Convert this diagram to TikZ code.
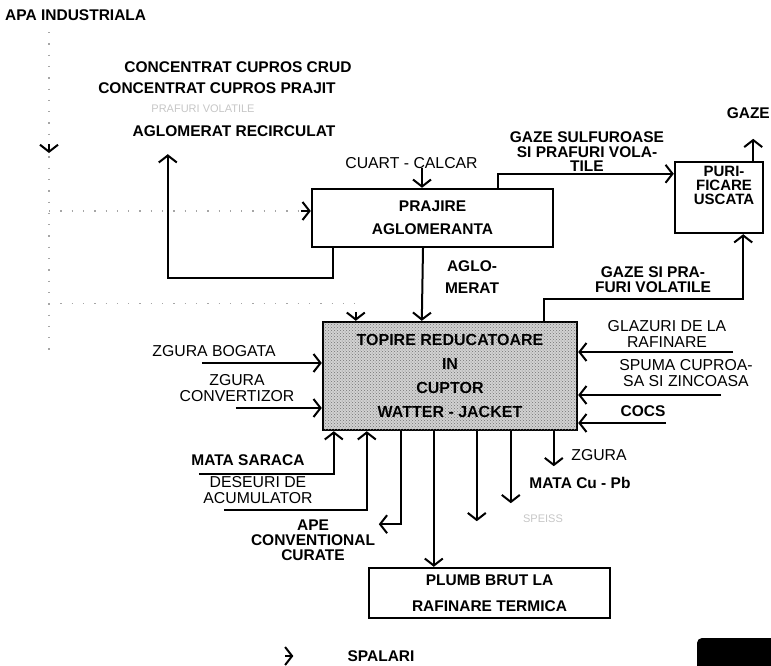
\documentclass[tikz,border=0pt]{standalone}
\usepackage{fontspec}
\setmainfont{Liberation Sans}
\usetikzlibrary{arrows.meta, calc, patterns, positioning}

\tikzset{
  box/.style={draw, line width=2.4pt, inner sep=2pt, align=center},
  arr/.style={line width=2pt, -{Straight Barb[length=7pt,width=18pt]}},
  lbl/.style={font=\fontsize{15.5}{14.5}\selectfont\bfseries, align=center, inner sep=0pt},
  lite/.style={font=\fontsize{15.8}{15.5}\selectfont, align=center, inner sep=0pt},
  faint/.style={text=gray!45, font=\fontsize{11}{12}\selectfont, inner sep=0pt},
  water/.style={gray!70, line width=1.3pt, dash pattern=on 1.3pt off 10pt},
}

\begin{document}
\begin{tikzpicture}[x=1pt, y=-1pt]
    \useasboundingbox (0,0) rectangle (771,665);

    % Boxes
    \node[box, minimum width=241pt, minimum height=58pt, font=\fontsize{15.5}{23}\selectfont\bfseries] (prajire) at (432.5,218) {PRAJIRE\\AGLOMERANTA};
    \node[box, minimum width=88pt, minimum height=71pt] (purif) at (719,197.5) {};
    \node[lbl, font=\fontsize{15}{14}\selectfont\bfseries] (puriftxt) at (724,185) {PURI-\\FICARE\\USCATA};
    \node[box, fill=gray!35, postaction={pattern=crosshatch dots, pattern color=black!55}, minimum width=254pt, minimum height=108pt, font=\fontsize{16}{24}\selectfont\bfseries] (topire) at (450,376) {TOPIRE REDUCATOARE\\IN\\CUPTOR\\WATTER - JACKET};
    \node[box, minimum width=241pt, minimum height=50pt, font=\fontsize{15.5}{26}\selectfont\bfseries] (plumb) at (489.5,593) {PLUMB BRUT LA\\RAFINARE TERMICA};

    % Labels
    \node[lbl, anchor=west] (apa) at (5,15.5) {APA INDUSTRIALA};
    \node[lbl] (crud) at (238,67) {CONCENTRAT CUPROS CRUD};
    \node[lbl] (prajit) at (217,88) {CONCENTRAT CUPROS PRAJIT};
    \node[faint] (praf) at (203,109) {PRAFURI VOLATILE};
    \node[lbl] (recirc) at (234,131) {AGLOMERAT RECIRCULAT};
    \node[lite] (cuart) at (411.5,163) {CUART - CALCAR};
    \node[lbl] (gazesulf) at (587,152) {GAZE SULFUROASE\\SI PRAFURI VOLA-\\TILE};
    \node[lbl, anchor=east] (gaze) at (770,113) {GAZE};
    \node[lbl, font=\fontsize{15.5}{22}\selectfont\bfseries] (aglo) at (472,277) {AGLO-\\MERAT};
    \node[lbl, font=\fontsize{15.5}{15}\selectfont\bfseries] (gazevol) at (653,280) {GAZE SI PRA-\\FURI VOLATILE};
    \node[lite] (glazuri) at (667,334) {GLAZURI DE LA\\RAFINARE};
    \node[lite] (spuma) at (686,373) {SPUMA CUPROA-\\SA SI ZINCOASA};
    \node[lbl] (cocs) at (643,411) {COCS};
    \node[lite] (zgbog) at (214,351) {ZGURA BOGATA};
    \node[lite, font=\fontsize{15.8}{16}\selectfont] (zgconv) at (237,388) {ZGURA\\CONVERTIZOR};
    \node[lbl] (matasar) at (248,460) {MATA SARACA};
    \node[lite] (deseuri) at (258,490) {DESEURI DE\\ACUMULATOR};
    \node[lbl, font=\fontsize{15.5}{15}\selectfont\bfseries] (ape) at (313,540) {APE\\CONVENTIONAL\\CURATE};
    \node[lite] (zgura) at (599,455) {ZGURA};
    \node[lbl] (matacu) at (580,483) {MATA Cu - Pb};
    \node[faint] (speis) at (543,519) {SPEISS};
    \node[lbl] (spalari) at (381,656) {SPALARI};

    % Roasting
    \draw[arr] ($(prajire.north)+(-10.5,-20)$) -- ($(prajire.north)+(-10.5,0)$);
    \draw[arr] ($(prajire.north)+(65.5,0)$) |- ($(purif.north west)+(0,13)$);
    \draw[arr] ($(purif.north east)+(-11,0)$) -- ++(0,-22);
    \draw[arr] ($(prajire.south west)+(22,0)$) -- ++(0,30) -| ($(prajire.south west)+(-143,-94)$);
    \draw[arr] ($(prajire.south)+(-9.5,0)$) -- ($(topire.north west)+(100,0)$);
    \draw[arr] ($(topire.north east)+(-34,0)$) -- ++(0,-22) -| ($(purif.south east)+(-21,0)$);

    % Inputs to the furnace
    \draw[arr] ($(topire.west)+(-120,-13)$) -- ($(topire.west)+(0,-13)$);
    \draw[arr] ($(topire.west)+(-86,32)$) -- ($(topire.west)+(0,32)$);
    \draw[arr] ($(topire.east)+(155,-24)$) -- ($(topire.east)+(0,-24)$);
    \draw[arr] ($(topire.east)+(143,19)$) -- ($(topire.east)+(0,19)$);
    \draw[arr] ($(topire.east)+(88,47)$) -- ($(topire.east)+(0,47)$);
    \draw[arr] ($(topire.south west)+(-123,43)$) -| ($(topire.south west)+(12,0)$);
    \draw[arr] ($(topire.south west)+(-98,79)$) -| ($(topire.south west)+(45,0)$);

    % Outputs
    \draw[arr] ($(topire.south west)+(79,0)$) |- ($(topire.south west)+(57,93)$);
    \draw[arr] ($(topire.south west)+(112,0)$) -- ($(plumb.north west)+(66,0)$);
    \draw[arr] ($(topire.south west)+(155,0)$) -- ++(0,90);
    \draw[arr] ($(topire.south west)+(189,0)$) -- ++(0,72);
    \draw[arr] ($(topire.south west)+(232,0)$) -- ++(0,35);

    % Water
    \coordinate (wtop) at (49,32);
    \coordinate (wbot) at (49,357);
    \coordinate (wpr) at ($(prajire.west)+(0,-7)$);
    \coordinate (wtp) at ($(topire.north west)+(34,0)$);
    \coordinate (wtpk) at ($(wtp)+(0,-17)$);
    \coordinate (wsp) at ($(spalari.west)+(-54,0)$);
    \draw[water] (wtop) -- (wbot);
    \draw[arr] ($(wtop)+(0,112)$) -- ($(wtop)+(0,121)$);
    \draw[water] (wtop |- wpr) -- (wpr);
    \draw[arr] ($(wpr)+(-10,0)$) -- (wpr);
    \draw[water] (wtop |- wtpk) -- (wtpk) -- (wtp);
    \draw[arr] ($(wtp)+(0,-9)$) -- (wtp);
    \draw[arr] ($(wsp)+(-8,0)$) -- (wsp);

    % Corner blot
    \fill[rounded corners=5pt] (697,675) -- (697,638) -- (781,638) -- (781,675) -- cycle;
\end{tikzpicture}
\end{document}
